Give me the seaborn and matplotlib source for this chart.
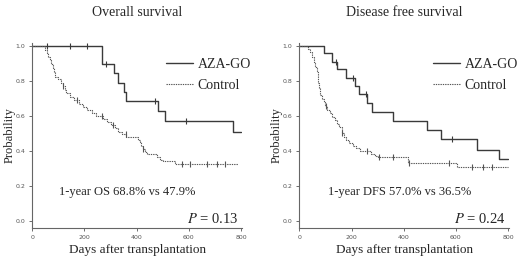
import matplotlib
matplotlib.use("Agg")
import matplotlib.pyplot as plt
from matplotlib.lines import Line2D
import seaborn as sns
import numpy as np
import pandas as pd

sns.set_style("ticks")
plt.rcParams["font.family"] = ["Liberation Serif", "DejaVu Serif"]
plt.rcParams["mathtext.fontset"] = "stix"

# ---- Overall survival ----
os_aza_t = [0, 267, 312, 329, 350, 358, 480, 508, 771, 800]
os_aza_s = [1.0, 0.90, 0.845, 0.79, 0.74, 0.688, 0.63, 0.573, 0.51, 0.51]
os_aza_cens = [55, 143, 210, 283, 471, 588]

os_ctl_t = [0, 48, 55, 60, 66, 72, 78, 84, 88, 98, 110, 118, 125, 130, 145, 160,
            178, 195, 210, 228, 245, 270, 285, 300, 318, 330, 345, 360, 405, 412,
            418, 425, 432, 440, 478, 490, 500, 545, 790]
os_ctl_s = [1.0, 0.98, 0.96, 0.94, 0.92, 0.90, 0.875, 0.85, 0.825, 0.81, 0.79, 0.77,
            0.75, 0.73, 0.71, 0.69, 0.67, 0.65, 0.635, 0.615, 0.60, 0.585, 0.565,
            0.55, 0.53, 0.51, 0.495, 0.48, 0.465, 0.45, 0.43, 0.41, 0.395, 0.38,
            0.365, 0.35, 0.34, 0.325, 0.325]
os_ctl_cens = [118, 170, 268, 310, 358, 426, 573, 603, 670, 708, 740]

# ---- Disease free survival ----
dfs_aza_t = [0, 94, 127, 145, 178, 212, 229, 259, 277, 358, 491, 542, 682, 767, 800]
dfs_aza_s = [1.0, 0.958, 0.91, 0.868, 0.82, 0.77, 0.725, 0.672, 0.62, 0.573, 0.519,
             0.466, 0.408, 0.351, 0.351]
dfs_aza_cens = [140, 206, 254, 584]

dfs_ctl_t = [0, 34, 42, 50, 56, 62, 66, 70, 73, 76, 80, 86, 94, 100, 108, 118, 126,
             135, 143, 152, 162, 172, 180, 190, 205, 218, 232, 275, 290, 300, 415,
             605, 800]
dfs_ctl_s = [1.0, 0.985, 0.965, 0.94, 0.91, 0.88, 0.85, 0.82, 0.79, 0.76, 0.72, 0.70,
             0.68, 0.655, 0.635, 0.615, 0.595, 0.575, 0.555, 0.535, 0.505, 0.48, 0.46,
             0.445, 0.43, 0.415, 0.40, 0.385, 0.37, 0.365, 0.333, 0.31, 0.31]
dfs_ctl_cens = [102, 165, 260, 305, 358, 420, 572, 663, 705, 740]

panels = [
    ("Overall survival", "1-year OS 68.8% vs 47.9%", "0.13", 365,
     (os_aza_t, os_aza_s, os_aza_cens), (os_ctl_t, os_ctl_s, os_ctl_cens)),
    ("Disease free survival", "1-year DFS 57.0% vs 36.5%", "0.24", 383,
     (dfs_aza_t, dfs_aza_s, dfs_aza_cens), (dfs_ctl_t, dfs_ctl_s, dfs_ctl_cens)),
]

cols = {"AZA-GO": "#3a3a3a", "Control": "#555555"}
styles = {"AZA-GO": "-", "Control": (0, (1.2, 0.9))}
lws = {"AZA-GO": 1.0, "Control": 0.8}

fig = plt.figure(figsize=(5.2, 2.63), dpi=100)
lefts = [0.0621, 0.5756]
for (title, note, pval, note_x, aza, ctl), left in zip(panels, lefts):
    ax = fig.add_axes([left, 0.134, 0.404, 0.704])
    for name, (t, s, cens) in [("AZA-GO", aza), ("Control", ctl)]:
        df = pd.DataFrame({"t": t, "s": s})
        sns.lineplot(data=df, x="t", y="s", ax=ax, estimator=None, sort=False,
                     drawstyle="steps-post", color=cols[name], lw=lws[name],
                     linestyle=styles[name])
        idx = np.searchsorted(np.array(t), np.array(cens), side="right") - 1
        cdf = pd.DataFrame({"t": cens, "s": np.array(s)[idx]})
        sns.scatterplot(data=cdf, x="t", y="s", ax=ax, marker="|", s=14,
                        color=cols[name], linewidth=0.8)
    ax.set_xlim(0, 805)
    ax.set_ylim(-0.04, 1.02)
    ax.set_xticks([0, 200, 400, 600, 800])
    ax.set_yticks([0.0, 0.2, 0.4, 0.6, 0.8, 1.0])
    ax.set_yticklabels(["0.0", "0.2", "0.4", "0.6", "0.8", "1.0"])
    ax.tick_params(labelsize=4.5, length=2.5, width=0.6, colors="#555555",
                   labelcolor="#555555", pad=2.5)
    for lab in ax.get_xticklabels() + ax.get_yticklabels():
        lab.set_family("DejaVu Sans")
    sns.despine(ax=ax)
    for sp in ["left", "bottom"]:
        ax.spines[sp].set_color("#666666")
        ax.spines[sp].set_linewidth(0.8)
    ax.set_xlabel("Days after transplantation", fontsize=9.5, labelpad=3)
    ax.set_ylabel("Probability", fontsize=9)
    ax.yaxis.set_label_coords(-0.08, 0.5)
    ax.set_title(title, fontsize=10, pad=19)
    ax.text(note_x, 0.165, note, fontsize=9, ha="center", va="center")
    ax.text(790, 0.01, r"$P$ = " + pval, fontsize=10.5, ha="right", va="center")
    handles = [Line2D([], [], color=cols[k], lw=lws[k], linestyle=styles[k])
               for k in ["AZA-GO", "Control"]]
    ax.legend(handles, ["AZA-GO", "Control"], loc="upper left",
              bbox_to_anchor=(0.637, 0.916), frameon=False, fontsize=10,
              handlelength=1.9, handletextpad=0.36, labelspacing=0.57,
              borderaxespad=0, borderpad=0)

fig.savefig("out.png", dpi=100)
